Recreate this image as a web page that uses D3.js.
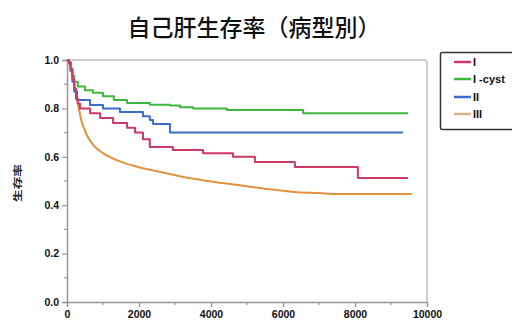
<!DOCTYPE html>
<html><head><meta charset="utf-8">
<script src="https://cdn.jsdelivr.net/npm/d3@7/dist/d3.min.js"></script>
<style>html,body{margin:0;padding:0;background:#fff;}svg{display:block;}</style>
</head><body>
<svg id="c" width="512" height="320"></svg>
<script>
const title = "自己肝生存率（病型別）";
const yLabel = "生存率";
const seriesNames = ["I", "I -cyst", "II", "III"];
const seriesColors = ["#cc3a62", "#3cb83c", "#3a6ccc", "#e0923e"];
const legendColors = ["#cc3a62", "#3cb83c", "#3a6ccc", "#dcb48c"];
const xTicks = [0, 2000, 4000, 6000, 8000, 10000];
const yTicks = [0.0, 0.2, 0.4, 0.6, 0.8, 1.0];

// [time, survival]
const seriesI = [[0,1],[50,0.99],[100,0.96],[150,0.92],[200,0.88],[250,0.84],[300,0.82],[360,0.80],[640,0.78],[920,0.76],[1280,0.74],[1670,0.72],[1890,0.70],[2110,0.673],[2300,0.64],[2940,0.628],[3780,0.615],[4610,0.60],[5220,0.579],[6330,0.558],[8080,0.512],[9470,0.512]];
const seriesIcyst = [[0,1],[50,0.99],[100,0.965],[150,0.935],[200,0.91],[300,0.89],[500,0.875],[720,0.865],[1000,0.85],[1300,0.835],[1670,0.822],[2300,0.815],[2860,0.812],[3140,0.805],[3500,0.80],[4440,0.793],[6560,0.78],[9470,0.78]];
const seriesII = [[0,1],[50,0.99],[100,0.955],[150,0.91],[200,0.87],[280,0.835],[640,0.814],[1000,0.80],[1470,0.785],[2110,0.768],[2300,0.752],[2390,0.736],[2860,0.70],[9330,0.70]];
const seriesIII = [[0,1],[50,0.99],[100,0.965],[200,0.90],[300,0.82],[400,0.75],[550,0.69],[750,0.645],[1000,0.615],[1400,0.585],[1800,0.565],[2500,0.54],[3200,0.518],[4000,0.498],[4800,0.482],[5500,0.468],[6300,0.455],[7000,0.45],[7500,0.446],[9580,0.446]];

const allSeries = [seriesI, seriesIcyst, seriesII, seriesIII];
const curves = [d3.curveStepAfter, d3.curveStepAfter, d3.curveStepAfter, d3.curveMonotoneX];

const svg = d3.select("#c");
const L = 67, R = 427, T = 60, B = 302;
const x = d3.scaleLinear().domain([0, 10000]).range([L, R]);
const y = d3.scaleLinear().domain([0, 1]).range([B, T]);

// title
svg.append("text").attr("x", 254).attr("y", 35.5).attr("text-anchor", "middle")
  .attr("font-family", "'Noto Sans CJK JP'").attr("font-size", 23).attr("font-weight", 500)
  .attr("fill", "#111").text(title);

// frame (top/right light)
svg.append("path").attr("d", `M${L},${T} H${R-3} Q${R},${T} ${R},${T+3} V${B}`)
  .attr("fill", "none").attr("stroke", "#bdbdbd").attr("stroke-width", 1.5);

// axes
const yAxis = d3.axisLeft(y).tickValues(yTicks).tickFormat(d3.format(".1f")).tickSize(5).tickPadding(3);
const gy = svg.append("g").attr("transform", `translate(${L},0)`).call(yAxis);
const xAxis = d3.axisBottom(x).tickValues(xTicks).tickFormat(d3.format("d")).tickSize(5).tickPadding(4);
const gx = svg.append("g").attr("transform", `translate(0,${B})`).call(xAxis);
[gx, gy].forEach(g => {
  g.select(".domain").attr("stroke", "#999").attr("stroke-width", 1.5);
  g.selectAll(".tick line").attr("stroke", "#999").attr("stroke-width", 1.2);
  g.selectAll(".tick text").attr("font-family", "'Liberation Sans', Arial, sans-serif")
    .attr("font-size", 10.5).attr("font-weight", "bold").attr("fill", "#111");
});
// minor ticks
const yMinor = [0.1, 0.3, 0.5, 0.7, 0.9];
svg.append("g").selectAll("line").data(yMinor).join("line")
  .attr("x1", L - 3).attr("x2", L).attr("y1", d => y(d)).attr("y2", d => y(d))
  .attr("stroke", "#999").attr("stroke-width", 1.2);
const xMinor = [1000, 3000, 5000, 7000, 9000];
svg.append("g").selectAll("line").data(xMinor).join("line")
  .attr("y1", B).attr("y2", B + 3).attr("x1", d => x(d)).attr("x2", d => x(d))
  .attr("stroke", "#999").attr("stroke-width", 1.2);

// y label
svg.append("text").attr("transform", "translate(21,183) rotate(-90)")
  .attr("text-anchor", "middle").attr("font-family", "'Noto Sans CJK JP'")
  .attr("font-size", 9).attr("font-weight", "bold").attr("fill", "#222")
  .attr("textLength", 38).attr("lengthAdjust", "spacingAndGlyphs").text(yLabel);

// lines (draw order: III, II, I-cyst, I)
[3, 2, 1, 0].forEach(i => {
  const line = d3.line().x(d => x(d[0])).y(d => y(d[1])).curve(curves[i]);
  svg.append("path").datum(allSeries[i]).attr("d", line)
    .attr("fill", "none").attr("stroke", seriesColors[i]).attr("stroke-width", 2)
    .attr("stroke-linejoin", "round");
});

// legend
const lg = svg.append("g");
lg.append("rect").attr("x", 440.5).attr("y", 52.5).attr("width", 80).attr("height", 77)
  .attr("rx", 2).attr("fill", "#fff").attr("stroke", "#333").attr("stroke-width", 1.5);
const rowY = [62, 79, 97, 114];
seriesNames.forEach((n, i) => {
  lg.append("line").attr("x1", 454).attr("x2", 471).attr("y1", rowY[i]).attr("y2", rowY[i])
    .attr("stroke", legendColors[i]).attr("stroke-width", 2.5);
  lg.append("text").attr("x", 473).attr("y", rowY[i] + 4).attr("font-family", "'Liberation Sans', Arial, sans-serif")
    .attr("font-size", 11).attr("font-weight", "bold").attr("fill", "#111").text(n);
});
</script>
</body></html>
